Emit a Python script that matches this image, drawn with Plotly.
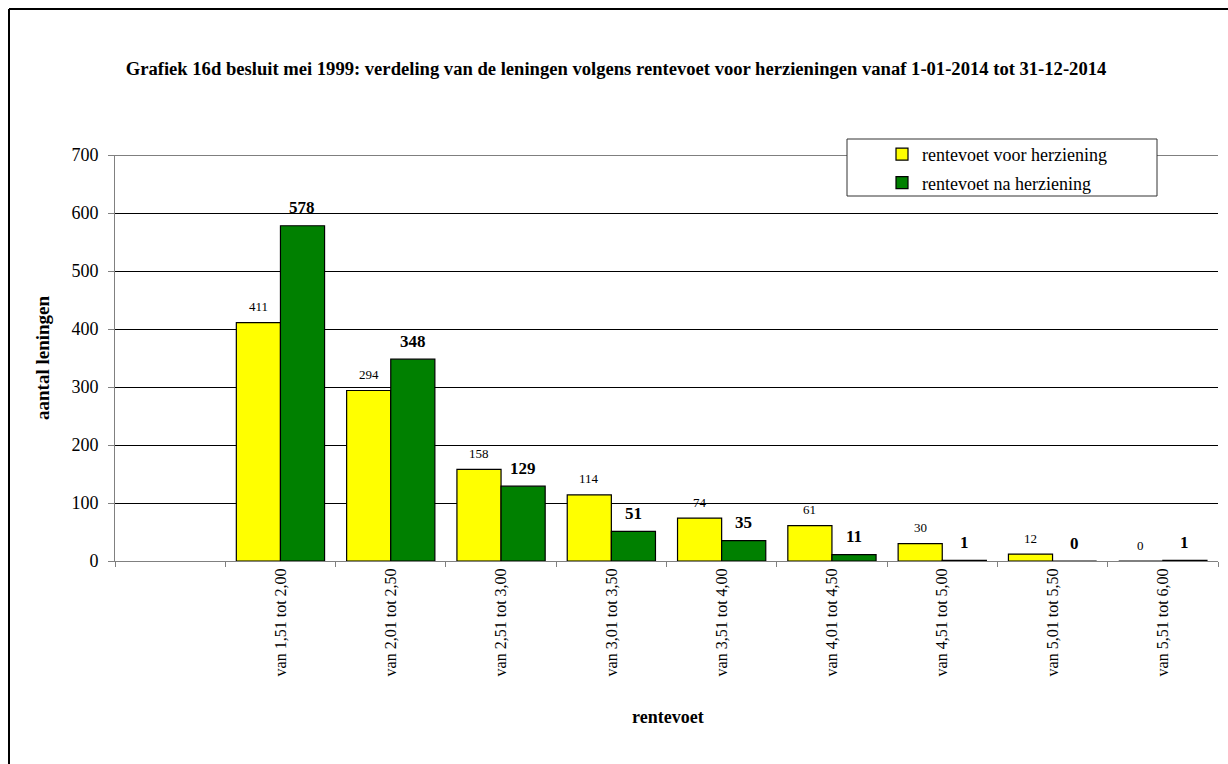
import plotly.graph_objects as go

# Interest-rate classes (first slot is an empty class)
categories = [" ", "van 1,51 tot 2,00", "van 2,01 tot 2,50", "van 2,51 tot 3,00",
              "van 3,01 tot 3,50", "van 3,51 tot 4,00", "van 4,01 tot 4,50",
              "van 4,51 tot 5,00", "van 5,01 tot 5,50", "van 5,51 tot 6,00"]
voor_herziening = [None, 411, 294, 158, 114, 74, 61, 30, 12, 0]
na_herziening = [None, 578, 348, 129, 51, 35, 11, 1, 0, 1]
y_ticks = [0, 100, 200, 300, 400, 500, 600, 700]

FONT = "Liberation Serif, Times New Roman, serif"
W, H = 1228, 764
ML, MR, MT, MB = 115, 10, 155, 203
PW, PH = W - ML - MR, H - MT - MB


def px_x(p):
    return (p - ML) / PW


def px_y(p):
    return (H - MB - p) / PH


fig = go.Figure()
fig.add_trace(go.Bar(
    x=categories, y=voor_herziening, name="rentevoet voor herziening",
    marker=dict(color="#FFFF00", line=dict(color="#000000", width=1.2)),
    legendgroup="a",
))
fig.add_trace(go.Bar(
    x=categories, y=na_herziening, name="rentevoet na herziening",
    marker=dict(color="#008000", line=dict(color="#000000", width=1.2)),
    legendgroup="b",
))

annotations = []
for cat, v in zip(categories, voor_herziening):
    if v is None:
        continue
    annotations.append(dict(
        x=cat, y=v, xref="x", yref="y", text=str(v), showarrow=False,
        xshift=-22, yshift=16, yanchor="middle",
        font=dict(family=FONT, size=13, color="rgb(0,0,0)"),
    ))
for cat, v in zip(categories, na_herziening):
    if v is None:
        continue
    annotations.append(dict(
        x=cat, y=v, xref="x", yref="y", text=f"<b>{v}</b>", showarrow=False,
        xshift=22, yshift=18, yanchor="middle",
        font=dict(family=FONT, size=17, color="rgb(0,0,0)"),
    ))

# axis titles
annotations.append(dict(
    x=px_x(42), y=px_y(358), xref="paper", yref="paper", text="<b>aantal leningen</b>",
    textangle=-90, showarrow=False, xanchor="center", yanchor="middle",
    font=dict(family=FONT, size=19, color="#000000"),
))
annotations.append(dict(
    x=px_x(668), y=px_y(717), xref="paper", yref="paper", text="<b>rentevoet</b>",
    showarrow=False, xanchor="center", yanchor="middle",
    font=dict(family=FONT, size=18, color="#000000"),
))

shapes = [
    # top gridline at the upper end of the value axis
    dict(type="line", xref="paper", yref="y", layer="below",
         x0=0, x1=1, y0=max(y_ticks), y1=max(y_ticks),
         line=dict(color="#000000", width=1)),
    # legend box
    dict(type="rect", xref="paper", yref="paper", layer="above",
         x0=px_x(847), x1=px_x(1157), y0=px_y(196), y1=px_y(139),
         line=dict(color="#333333", width=1), fillcolor="#FFFFFF"),
    # outer frame
    dict(type="line", xref="paper", yref="paper",
         x0=px_x(9), x1=px_x(W + 5), y0=px_y(9), y1=px_y(9),
         line=dict(color="#000000", width=2)),
    dict(type="line", xref="paper", yref="paper",
         x0=px_x(9), x1=px_x(9), y0=px_y(9), y1=px_y(H + 5),
         line=dict(color="#000000", width=2)),
]

fig.update_layout(
    width=W, height=H,
    margin=dict(l=ML, r=MR, t=MT, b=MB, autoexpand=False),
    paper_bgcolor="#FFFFFF", plot_bgcolor="#FFFFFF",
    font=dict(family=FONT, color="#000000"),
    title=dict(
        text="<b>Grafiek 16d besluit mei 1999: verdeling van de leningen volgens rentevoet voor herzieningen vanaf 1-01-2014 tot 31-12-2014</b>",
        x=616 / W, xref="container", xanchor="center",
        y=1 - 68 / H, yref="container", yanchor="middle",
        font=dict(family=FONT, size=18.6, color="#000000"),
    ),
    barmode="group", bargap=0.2, bargroupgap=0,
    showlegend=True,
    legend=dict(
        x=px_x(882), y=px_y(136), xanchor="left", yanchor="top",
        bgcolor="rgba(0,0,0,0)", borderwidth=0,
        font=dict(family=FONT, size=18, color="#000000"),
        traceorder="grouped", tracegroupgap=2,
    ),
    xaxis=dict(
        type="category", categoryorder="array", categoryarray=categories,
        range=[-0.5, len(categories) - 0.5],
        showline=True, linecolor="#808080", linewidth=1,
        ticks="outside", tickson="boundaries", ticklen=5, tickcolor="#808080",
        tickangle=-90, tickfont=dict(family=FONT, size=16, color="#000000"),
        showgrid=False, zeroline=False, fixedrange=True,
    ),
    yaxis=dict(
        range=[0, 700], tickvals=y_ticks,
        showline=True, linecolor="#808080", linewidth=1,
        ticks="outside", ticklen=6, tickcolor="#808080", ticklabelstandoff=6,
        tickfont=dict(family=FONT, size=18, color="#000000"),
        showgrid=True, gridcolor="#000000", gridwidth=1,
        zeroline=False, fixedrange=True,
    ),
    annotations=annotations,
    shapes=shapes,
)

fig.write_html("out.html")
